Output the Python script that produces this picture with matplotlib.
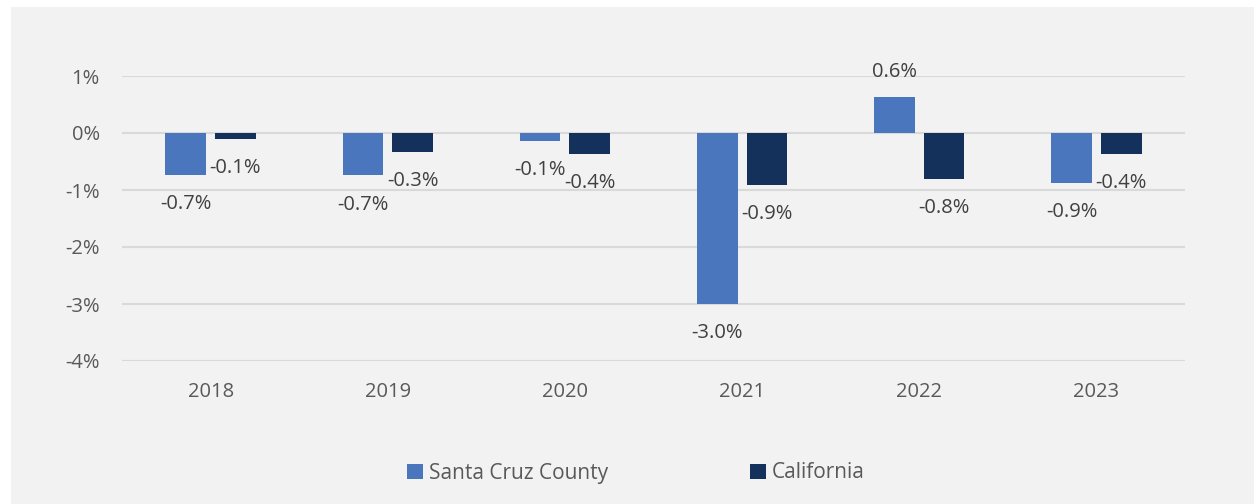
import matplotlib.pyplot as plt
import numpy as np
from matplotlib.patches import Rectangle

years = ["2018", "2019", "2020", "2021", "2022", "2023"]
santa_cruz = [-0.73, -0.745, -0.14, -3.0, 0.64, -0.87]
california = [-0.10, -0.33, -0.37, -0.91, -0.80, -0.37]
series_names = ["Santa Cruz County", "California"]

plt.rcParams['font.family'] = ['Open Sans', 'DejaVu Sans']

fig = plt.figure(figsize=(12.54, 5.04), dpi=100, facecolor='white')
# light gray chart area with a thin white margin at top/left
fig.patches.append(Rectangle((11 / 1254, 0), 1 - 11 / 1254, 1 - 7 / 504,
                             transform=fig.transFigure, facecolor='#f2f2f2',
                             edgecolor='none', zorder=-10))

ax = fig.add_axes([122 / 1254, 143 / 504, (1185 - 122) / 1254, (361 - 76) / 504])
ax.set_facecolor('none')
ax.set_zorder(1)

x = np.arange(len(years))
width = 0.23
offset = 0.14
colors = ['#4a76bd', '#13315a']

bars_sc = ax.bar(x - offset, santa_cruz, width, color=colors[0], label=series_names[0], zorder=3)
bars_ca = ax.bar(x + offset, california, width, color=colors[1], label=series_names[1], zorder=3)

# data labels just outside the bar end
for bars, vals in [(bars_sc, santa_cruz), (bars_ca, california)]:
    for b, v in zip(bars, vals):
        xc = b.get_x() + b.get_width() / 2
        dy = 18 if v >= 0 else -21
        ax.annotate(f"{v:.1f}%", (xc, v), xytext=(0, dy), textcoords='offset points',
                    ha='center', va='center', fontsize=14.5, color='#404040')

ax.set_xlim(-0.5, len(years) - 0.5)
ax.set_ylim(-4, 1)
ax.set_yticks(np.arange(-4, 2, 1))
ax.set_yticklabels([f"{t}%" for t in range(-4, 2)])
ax.set_xticks(x)
ax.set_xticklabels(years)
ax.tick_params(axis='both', length=0, labelsize=14.5, labelcolor='#595959')
ax.tick_params(axis='y', pad=16)
ax.tick_params(axis='x', pad=15)
ax.grid(axis='y', color='#d9d9d9', linewidth=1.5, zorder=0)
for s in ax.spines.values():
    s.set_visible(False)

fig.legend(loc='center', bbox_to_anchor=(636 / 1254, 1 - 473 / 504), ncol=2,
           frameon=False, fontsize=15, labelcolor='#595959', handlelength=0.75,
           handleheight=0.75, handletextpad=0.3, columnspacing=6.8)

plt.savefig('out.png', dpi=100, facecolor=fig.get_facecolor())
